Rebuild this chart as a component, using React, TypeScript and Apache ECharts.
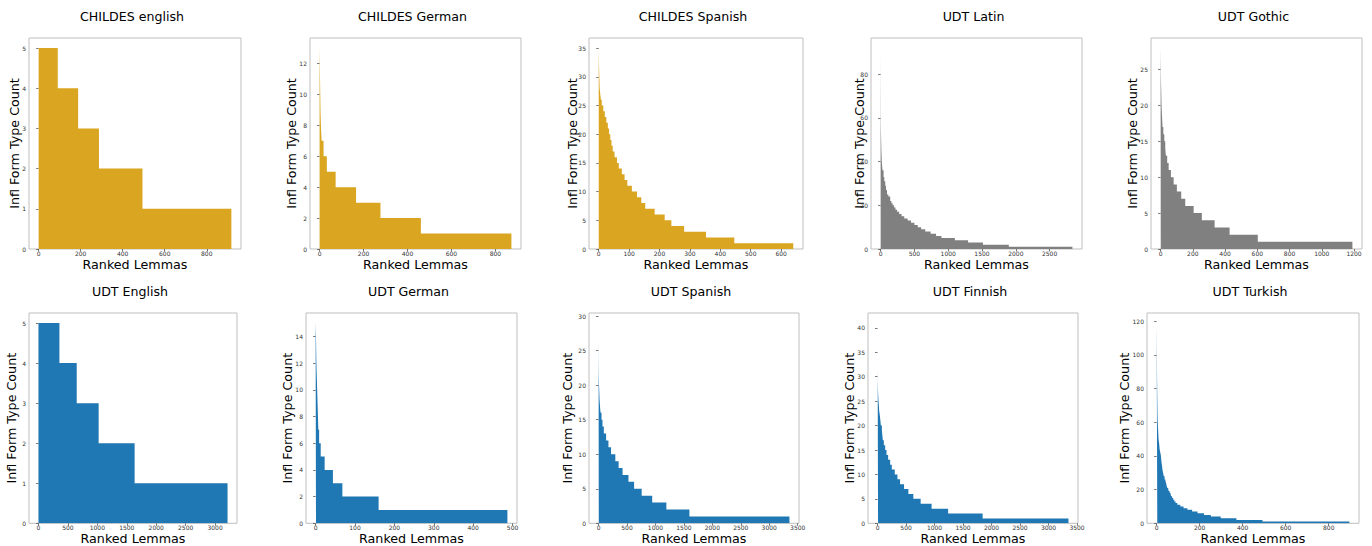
import React, { useEffect, useRef } from "react";
import * as echarts from "echarts";

// ---- data: step levels (Infl Form Type Count) and the rank where each level ends ----
const childesEnglishLevels = [5, 4, 3, 2, 1];
const childesEnglishEnds = [91, 188, 287, 494, 917];

const childesGermanLevels = [13, 12, 11, 10, 9, 8, 7, 6, 5, 4, 3, 2, 1];
const childesGermanEnds = [1, 2, 3, 4, 6, 9, 18, 33, 73, 166, 277, 461, 873];

const childesSpanishLevels = [35, 32, 30, 28, 27, 26, 25, 24, 23, 22, 21, 20, 19, 18, 17, 16, 15, 14, 13, 12, 11, 10, 9, 8, 7, 6, 5, 4, 3, 2, 1];
const childesSpanishEnds = [1, 2, 3, 5, 7, 10, 15, 20, 25, 30, 34, 38, 42, 46, 52, 60, 66, 76, 85, 94, 109, 126, 140, 153, 184, 217, 239, 281, 353, 446, 640];

const udtLatinLevels = [92, 80, 74, 61, 55, 50, 45, 40, 36, 33, 31, 29, 27, 25, 24, 22, 21, 20, 19, 18, 17, 16, 15, 14, 13, 12, 11, 10, 9, 8, 7, 6, 5, 4, 3, 2, 1];
const udtLatinEnds = [1, 2, 3, 5, 8, 12, 18, 28, 44, 55, 69, 80, 95, 115, 142, 160, 178, 200, 220, 245, 275, 310, 350, 400, 450, 500, 550, 600, 660, 740, 820, 900, 1098, 1294, 1514, 1896, 2837];

const udtGothicLevels = [28, 26, 24, 23, 22, 21, 20, 19, 18, 17, 16, 15, 14, 13, 12, 11, 10, 9, 8, 7, 6, 5, 4, 3, 2, 1];
const udtGothicEnds = [1, 2, 3, 4, 5, 6, 8, 10, 12, 17, 23, 29, 33, 41, 50, 64, 81, 101, 128, 153, 205, 256, 335, 428, 603, 1190];

const udtEnglishLevels = [5, 4, 3, 2, 1];
const udtEnglishEnds = [356, 650, 1022, 1633, 3211];

const udtGermanLevels = [15, 14, 12, 11, 10, 9, 8, 7, 6, 5, 4, 3, 2, 1];
const udtGermanEnds = [1, 2, 3, 4, 5, 6, 7, 9, 13, 23, 44, 68, 160, 487];

const udtSpanishLevels = [29, 26, 24, 23, 22, 21, 20, 19, 18, 17, 16, 15, 14, 13, 12, 11, 10, 9, 8, 7, 6, 5, 4, 3, 2, 1];
const udtSpanishEnds = [1, 2, 3, 4, 6, 9, 13, 17, 25, 35, 52, 69, 93, 133, 174, 220, 295, 353, 422, 526, 625, 758, 943, 1192, 1597, 3355];

const udtFinnishLevels = [41, 36, 33, 31, 29, 28, 27, 26, 25, 24, 23, 22, 21, 20, 19, 18, 17, 16, 15, 14, 13, 12, 11, 10, 9, 8, 7, 6, 5, 4, 3, 2, 1];
const udtFinnishEnds = [1, 2, 3, 4, 6, 9, 12, 17, 24, 29, 41, 50, 58, 76, 84, 93, 110, 134, 157, 186, 221, 250, 302, 349, 395, 465, 541, 628, 756, 948, 1238, 1843, 3349];

const udtTurkishLevels = [119, 105, 87, 75, 65, 60, 55, 50, 47, 44, 42, 40, 37, 34, 32, 30, 28, 26, 25, 24, 22, 21, 20, 19, 18, 17, 16, 15, 14, 13, 12, 11, 10, 9, 8, 7, 6, 5, 4, 3, 2, 1];
const udtTurkishEnds = [1, 2, 3, 4, 5, 7, 9, 12, 14, 17, 20, 22, 25, 27, 30, 33, 37, 41, 44, 47, 50, 54, 57, 61, 65, 68, 72, 77, 82, 88, 96, 110, 125, 143, 165, 190, 220, 252, 298, 371, 492, 896];

// ---- tick labels ----
const xTicks200to800 = [0, 200, 400, 600, 800];
const xTicksSpanishChildes = [0, 100, 200, 300, 400, 500, 600];
const xTicksLatin = [0, 500, 1000, 1500, 2000, 2500];
const xTicksGothic = [0, 200, 400, 600, 800, 1000, 1200];
const xTicksUdtEnglish = [0, 500, 1000, 1500, 2000, 2500, 3000];
const xTicksUdtGerman = [0, 100, 200, 300, 400, 500];
const xTicks0to3500 = [0, 500, 1000, 1500, 2000, 2500, 3000, 3500];

const yTicks0to5 = [0, 1, 2, 3, 4, 5];
const yTicks0to12 = [0, 2, 4, 6, 8, 10, 12];
const yTicks0to35 = [0, 5, 10, 15, 20, 25, 30, 35];
const yTicks0to80 = [0, 20, 40, 60, 80];
const yTicks0to25 = [0, 5, 10, 15, 20, 25];
const yTicks0to14 = [0, 2, 4, 6, 8, 10, 12, 14];
const yTicks0to30 = [0, 5, 10, 15, 20, 25, 30];
const yTicks0to40 = [0, 5, 10, 15, 20, 25, 30, 35, 40];
const yTicks0to120 = [0, 20, 40, 60, 80, 100, 120];

const titles = [
  "CHILDES english", "CHILDES German", "CHILDES Spanish", "UDT Latin", "UDT Gothic",
  "UDT English", "UDT German", "UDT Spanish", "UDT Finnish", "UDT Turkish",
];

const GOLD = "#DAA520";
const GRAY = "#808080";
const BLUE = "#1f77b4";
const FONT = "DejaVu Sans";

// layout: [left, top, width, height] of each plot box, and y-name gap
const panels = [
  { levels: childesEnglishLevels, ends: childesEnglishEnds, xt: xTicks200to800, yt: yTicks0to5, color: GOLD, box: [29, 38, 212, 211], yGap: 7.7 },
  { levels: childesGermanLevels, ends: childesGermanEnds, xt: xTicks200to800, yt: yTicks0to12, color: GOLD, box: [310, 38, 211, 211], yGap: 12 },
  { levels: childesSpanishLevels, ends: childesSpanishEnds, xt: xTicksSpanishChildes, yt: yTicks0to35, color: GOLD, box: [589, 38, 214, 211], yGap: 10 },
  { levels: udtLatinLevels, ends: udtLatinEnds, xt: xTicksLatin, yt: yTicks0to80, color: GRAY, box: [871, 38, 211, 211], yGap: 4.7 },
  { levels: udtGothicLevels, ends: udtGothicEnds, xt: xTicksGothic, yt: yTicks0to25, color: GRAY, box: [1151, 38, 211, 211], yGap: 12.3 },
  { levels: udtEnglishLevels, ends: udtEnglishEnds, xt: xTicksUdtEnglish, yt: yTicks0to5, color: BLUE, box: [29, 313, 208, 211], yGap: 11 },
  { levels: udtGermanLevels, ends: udtGermanEnds, xt: xTicksUdtGerman, yt: yTicks0to14, color: BLUE, box: [306, 313, 211, 211], yGap: 12.4 },
  { levels: udtSpanishLevels, ends: udtSpanishEnds, xt: xTicks0to3500, yt: yTicks0to30, color: BLUE, box: [589, 313, 210, 211], yGap: 14.7 },
  { levels: udtFinnishLevels, ends: udtFinnishEnds, xt: xTicks0to3500, yt: yTicks0to40, color: BLUE, box: [868, 313, 210, 211], yGap: 12.4 },
  { levels: udtTurkishLevels, ends: udtTurkishEnds, xt: xTicks200to800, yt: yTicks0to120, color: BLUE, box: [1147, 313, 212, 211], yGap: 16 },
];

function stepPoints(levels: number[], ends: number[]) {
  const pts: number[][] = [];
  levels.forEach((v, i) => {
    const start = i === 0 ? 0 : ends[i - 1];
    pts.push([start, v], [ends[i], v]);
  });
  return pts;
}

export default function App() {
  const ref = useRef<HTMLDivElement>(null);
  useEffect(() => {
    if (!ref.current) return;
    const chart = echarts.init(ref.current, undefined, { renderer: "svg" });
    const tickStyle = { color: "#555555", width: 0.8 };
    const fmt = (v: number) => String(v);
    const option = {
      animation: false,
      backgroundColor: "#ffffff",
      title: panels.map((p, i) => ({
        text: titles[i],
        left: p.box[0] + p.box[2] / 2 - 3,
        top: p.box[1] - 28,
        padding: 0,
        textAlign: "center",
        textStyle: { fontFamily: FONT, fontSize: 12.6, fontWeight: "normal", color: "#000" },
      })),
      grid: panels.map((p) => ({
        left: p.box[0], top: p.box[1], width: p.box[2], height: p.box[3],
        show: true, borderColor: "#bfbfbf", borderWidth: 1, backgroundColor: "transparent",
        containLabel: false,
      })),
      xAxis: panels.map((p, i) => {
        const xmax = p.ends[p.ends.length - 1];
        return {
          type: "value", gridIndex: i,
          min: -0.05 * xmax, max: 1.05 * xmax,
          name: "Ranked Lemmas", nameLocation: "middle", nameGap: 8.7,
          nameMoveOverlap: false,
          nameTextStyle: { fontFamily: FONT, fontSize: 12.7, color: "#000" },
          axisLine: { show: false, lineStyle: { color: "#555555" } },
          axisTick: { show: true, length: 2.5, lineStyle: tickStyle, customValues: p.xt },
          axisLabel: { customValues: p.xt, formatter: fmt, fontFamily: FONT, fontSize: 6, color: "#333333", margin: 1.5 },
          splitLine: { show: false },
        };
      }),
      yAxis: panels.map((p, i) => ({
        type: "value", gridIndex: i,
        min: 0, max: 1.05 * p.levels[0],
        name: "Infl Form Type Count", nameLocation: "middle", nameGap: p.yGap,
        nameMoveOverlap: false,
        nameTextStyle: { fontFamily: FONT, fontSize: 12.7, color: "#000" },
        axisLine: { show: false, lineStyle: { color: "#555555" } },
        axisTick: { show: true, length: 2.5, lineStyle: tickStyle, customValues: p.yt },
        axisLabel: { customValues: p.yt, formatter: fmt, fontFamily: FONT, fontSize: 6, color: "#333333", margin: 3 },
        splitLine: { show: false },
      })),
      series: panels.map((p, i) => ({
        type: "line", xAxisIndex: i, yAxisIndex: i,
        data: stepPoints(p.levels, p.ends),
        symbol: "none", silent: true,
        lineStyle: { width: 0 },
        areaStyle: { color: p.color, opacity: 1 },
      })),
    };
    chart.setOption(option as any);
    return () => chart.dispose();
  }, []);
  return <div ref={ref} style={{ position: "fixed", left: 0, top: 0, width: 1372, height: 546 }} />;
}
